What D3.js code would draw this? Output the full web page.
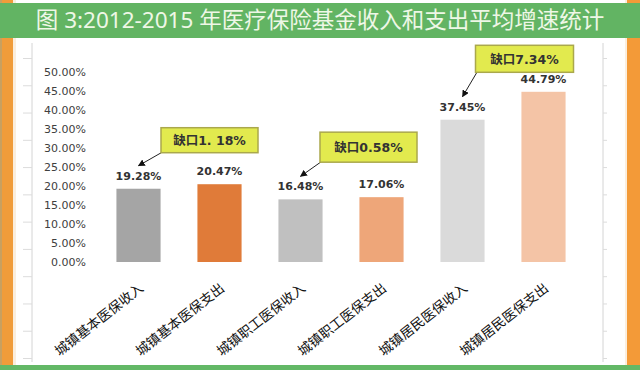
<!DOCTYPE html>
<html>
<head>
<meta charset="utf-8">
<script src="https://cdn.jsdelivr.net/npm/d3@7"></script>
<style>
  html, body { margin: 0; padding: 0; background: #fff; }
  svg { display: block; }
</style>
</head>
<body>
<div id="chart"></div>
<script>

// chart data
var categories = ["城镇基本医保收入", "城镇基本医保支出", "城镇职工医保收入",
                  "城镇职工医保支出", "城镇居民医保收入", "城镇居民医保支出"];
var values = [19.28, 20.47, 16.48, 17.06, 37.45, 44.79];
var yTicks = [0, 5, 10, 15, 20, 25, 30, 35, 40, 45, 50];
var gapLabels = ["缺口1. 18%", "缺口0.58%", "缺口7.34%"];
var gapPairs = [[0, 1], [2, 3], [4, 5]];
var titleText = "图 3:2012-2015 年医疗保险基金收入和支出平均增速统计";

var barColors = ["#a5a5a5", "#e07b39", "#c0c0c0", "#eea679", "#dadada", "#f4c4a6"];

// callout layout (offsets from the second bar of each pair)
var calloutLayout = [
    {dx: -10, dy: -44, w: 97, h: 25},
    {dx: -13, dy: -50, w: 97, h: 30},
    {dx: -19, dy: -33, w: 98, h: 27}
];

var W = 640, H = 370;

var svg = d3.select("#chart")
    .append("svg")
        .attr("width", W)
        .attr("height", H);

// frame: orange side strips, green title bar, green bottom line
svg.append("rect").attr("x", 0).attr("y", 0).attr("width", W).attr("height", H).attr("fill", "#fff");
svg.append("rect").attr("x", 0).attr("y", 0).attr("width", 2).attr("height", H).attr("fill", "#c8a060");
svg.append("rect").attr("x", 2).attr("y", 0).attr("width", 11).attr("height", H).attr("fill", "#f09c3a");
svg.append("rect").attr("x", 13).attr("y", 0).attr("width", 3).attr("height", H).attr("fill", "#fbeedd");
svg.append("rect").attr("x", 625).attr("y", 0).attr("width", 2).attr("height", H).attr("fill", "#fbeedd");
svg.append("rect").attr("x", 627).attr("y", 0).attr("width", 13).attr("height", H).attr("fill", "#f39a38");
svg.append("rect").attr("x", 0).attr("y", 3).attr("width", W).attr("height", 35).attr("fill", "#62b463");
svg.append("rect").attr("x", 0).attr("y", 365).attr("width", W).attr("height", 5).attr("fill", "#63b866");

svg.append("text")
    .attr("x", 320)
    .attr("y", 28)
    .attr("text-anchor", "middle")
    .attr("font-family", "'Noto Sans', 'Noto Sans CJK SC', sans-serif")
    .attr("font-size", 22.5)
    .attr("fill", "#eef7e6")
    .text(titleText);

// faint border axes of the inner panel
var frameScale = d3.scaleLinear().domain([0, 11]).range([58, 358]);
var leftFrame = svg.append("g")
    .attr("transform", "translate(32,0)")
    .call(d3.axisLeft(frameScale).tickValues(d3.range(12)).tickSize(9).tickFormat(""));
var rightFrame = svg.append("g")
    .attr("transform", "translate(603,0)")
    .call(d3.axisRight(frameScale).tickValues(d3.range(12)).tickSize(4).tickFormat(""));
[leftFrame, rightFrame].forEach(function(g) {
    g.select(".domain").attr("d", "M0,43V362").attr("stroke", "#d4d4d4");
    g.selectAll(".tick line").attr("stroke", "#dcdcdc");
});

// scales
var xScale = d3.scaleBand()
    .domain(categories)
    .range([98, 584])
    .paddingInner(0.455)
    .paddingOuter(0.2275);

var yScale = d3.scaleLinear()
    .domain([0, 50])
    .range([262, 72]);

// y axis labels
var yAxis = d3.axisLeft(yScale)
    .tickValues(yTicks)
    .tickSize(0)
    .tickPadding(0)
    .tickFormat(function(d) { return d.toFixed(2) + "%"; });

var yg = svg.append("g")
    .attr("transform", "translate(86,0)")
    .call(yAxis);
yg.select(".domain").remove();
yg.selectAll("text")
    .attr("font-family", "'DejaVu Sans', sans-serif")
    .attr("font-size", 11)
    .attr("fill", "#404040");

// bars
svg.selectAll(".bar")
    .data(values)
    .enter().append("rect")
        .attr("class", "bar")
        .attr("x", function(d, i) { return xScale(categories[i]); })
        .attr("y", function(d) { return yScale(d); })
        .attr("width", xScale.bandwidth())
        .attr("height", function(d) { return yScale(0) - yScale(d); })
        .attr("fill", function(d, i) { return barColors[i]; });

// value labels
svg.selectAll(".val")
    .data(values)
    .enter().append("text")
        .attr("class", "val")
        .attr("x", function(d, i) { return xScale(categories[i]) + xScale.bandwidth() / 2; })
        .attr("y", function(d) { return yScale(d) - 9; })
        .attr("text-anchor", "middle")
        .attr("font-family", "'DejaVu Sans', sans-serif")
        .attr("font-weight", "bold")
        .attr("font-size", 11)
        .attr("fill", "#333")
        .text(function(d) { return d.toFixed(2) + "%"; });

// rotated category labels
svg.selectAll(".cat")
    .data(categories)
    .enter().append("text")
        .attr("class", "cat")
        .attr("text-anchor", "end")
        .attr("font-family", "'Noto Sans CJK SC', sans-serif")
        .attr("font-size", 13.5)
        .attr("fill", "#111")
        .attr("transform", function(d) {
            var cx = xScale(d) + xScale.bandwidth() / 2;
            return "translate(" + (cx + 6) + ",290) rotate(-38)";
        })
        .text(function(d) { return d; });

// gap callouts
var defs = svg.append("defs");
defs.append("marker")
    .attr("id", "arrow")
    .attr("viewBox", "0 0 10 10")
    .attr("refX", 9)
    .attr("refY", 5)
    .attr("markerWidth", 7)
    .attr("markerHeight", 7)
    .attr("orient", "auto")
  .append("path")
    .attr("d", "M0,0L10,5L0,10z")
    .attr("fill", "#111");

gapPairs.forEach(function(pair, i) {
    var lay = calloutLayout[i],
        b = categories[pair[1]],
        a = categories[pair[0]],
        cx = xScale(b) + xScale.bandwidth() / 2 + lay.dx,
        cy = yScale(values[pair[1]]) + lay.dy,
        x0 = cx - lay.w / 2,
        y0 = cy - lay.h / 2;

    svg.append("line")
        .attr("x1", x0 + 2)
        .attr("y1", y0 + lay.h - 1)
        .attr("x2", xScale(a) + xScale.bandwidth() / 2)
        .attr("y2", yScale(values[pair[0]]) - 23)
        .attr("stroke", "#222")
        .attr("stroke-width", 1)
        .attr("marker-end", "url(#arrow)");

    svg.append("rect")
        .attr("x", x0)
        .attr("y", y0)
        .attr("width", lay.w)
        .attr("height", lay.h)
        .attr("fill", "#e2ea4e")
        .attr("stroke", "#aaa84c")
        .attr("stroke-width", 1.5);

    svg.append("text")
        .attr("x", cx)
        .attr("y", cy + 5)
        .attr("text-anchor", "middle")
        .attr("font-family", "'DejaVu Sans', 'Noto Sans CJK SC', sans-serif")
        .attr("font-weight", "bold")
        .attr("font-size", 12.5)
        .attr("fill", "#333")
        .text(gapLabels[i]);
});

</script>
</body>
</html>
